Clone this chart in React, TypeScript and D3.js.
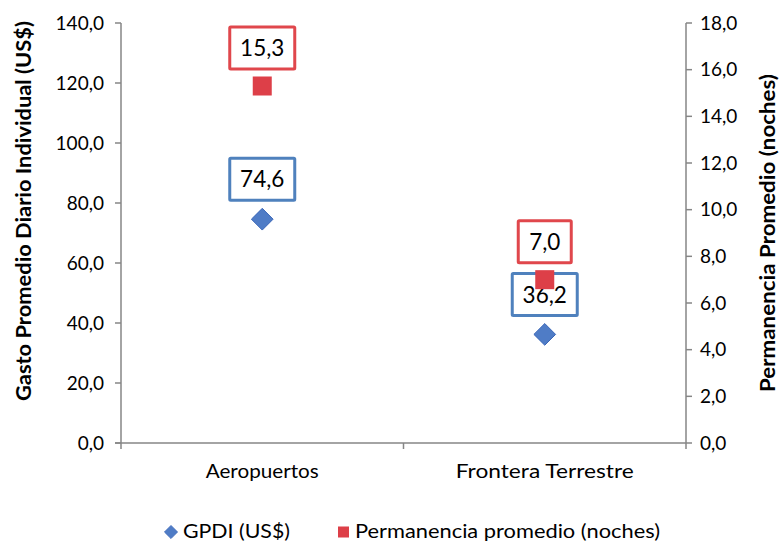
import React from "react";
import * as d3 from "d3";

const categories = ["Aeropuertos", "Frontera Terrestre"];
const gpdi = [74.6, 36.2];
const permanencia = [15.3, 7.0];
const leftTicks = [0, 20, 40, 60, 80, 100, 120, 140];
const rightTicks = [0, 2, 4, 6, 8, 10, 12, 14, 16, 18];
const seriesNames = ["GPDI (US$)", "Permanencia promedio (noches)"];
const leftTitle = "Gasto Promedio Diario Individual (US$)";
const rightTitle = "Permanencia Promedio (noches)";

const W = 779;
const H = 545;
const FONT = "Lato, 'Open Sans', sans-serif";
const AXIS = "#868686";
const RED = "#E0474C";
const RED_FILL = "#DD3F48";
const BLUE = "#4F81BD";
const BLUE_FILL = "#4F7CC6";
const BLUE_STROKE = "#3A66B8";

const fmt = (v: number) => d3.format(".1f")(v).replace(".", ",");

export default function App() {
  const left = 121, right = 686, top = 23, bottom = 443;
  const x = d3.scaleBand<string>().domain(categories).range([left, right]).padding(0);
  const yL = d3.scaleLinear().domain([0, 140]).range([bottom, top]);
  const yR = d3.scaleLinear().domain([0, 18]).range([bottom, top]);
  const cx = (c: string) => (x(c) ?? 0) + x.bandwidth() / 2;
  const diamond = d3.symbol().type(d3.symbolDiamond2).size(300)();
  const boxW = (s: string) => s.length * 12 + 17;
  const boxH = 42;
  const catLen = [113, 178];
  const legY = 532;

  const catBounds = [left, ...categories.map((c) => (x(c) ?? 0) + x.bandwidth())];

  return (
    <svg width={W} height={H} style={{ position: "absolute", left: 0, top: 0, fontFamily: FONT }}>
      <rect width={W} height={H} fill="#fff" />
      {/* left axis */}
      <line x1={left} x2={left} y1={top} y2={bottom} stroke={AXIS} strokeWidth={1.5} />
      {leftTicks.map((t) => (
        <g key={"l" + t}>
          <line x1={left - 6} x2={left} y1={yL(t)} y2={yL(t)} stroke={AXIS} strokeWidth={1.5} />
          <text x={104} y={yL(t)} dy="0.35em" textAnchor="end" fontSize={19} fill="#000">
            {fmt(t)}
          </text>
        </g>
      ))}
      {/* right axis */}
      <line x1={right} x2={right} y1={top} y2={bottom} stroke={AXIS} strokeWidth={1.5} />
      {rightTicks.map((t) => (
        <g key={"r" + t}>
          <line x1={right} x2={right + 6} y1={yR(t)} y2={yR(t)} stroke={AXIS} strokeWidth={1.5} />
          <text x={700} y={yR(t)} dy="0.35em" textAnchor="start" fontSize={19} fill="#000">
            {fmt(t)}
          </text>
        </g>
      ))}
      {/* x axis */}
      <line x1={left - 6} x2={right} y1={bottom} y2={bottom} stroke={AXIS} strokeWidth={1.5} />
      {catBounds.map((b, i) => (
        <line key={"xb" + i} x1={b} x2={b} y1={bottom} y2={bottom + 6} stroke={AXIS} strokeWidth={1.5} />
      ))}
      {categories.map((c, i) => (
        <text key={c} x={cx(c)} y={478} textAnchor="middle" fontSize={19.5} fill="#000"
          textLength={catLen[i]} lengthAdjust="spacingAndGlyphs">
          {c}
        </text>
      ))}
      {/* axis titles */}
      <text
        transform={`translate(31,211) rotate(-90)`}
        textAnchor="middle"
        fontSize={20}
        fontWeight="bold"
        fill="#000"
        textLength={380}
        lengthAdjust="spacingAndGlyphs"
      >
        {leftTitle}
      </text>
      <text
        transform={`translate(775,233) rotate(-90)`}
        textAnchor="middle"
        fontSize={20}
        fontWeight="bold"
        fill="#000"
        textLength={318}
        lengthAdjust="spacingAndGlyphs"
      >
        {rightTitle}
      </text>
      {/* GPDI series */}
      {categories.map((c, i) => {
        const px = cx(c), py = yL(gpdi[i]);
        const label = fmt(gpdi[i]);
        const w = boxW(label);
        const by = py - 40;
        return (
          <g key={"g" + c}>
            <path d={diamond} transform={`translate(${px},${py})`} fill={BLUE_FILL} stroke={BLUE_STROKE} strokeWidth={1} />
            <rect x={px - w / 2} y={by - boxH / 2} width={w} height={boxH} fill="#fff" stroke={BLUE} strokeWidth={3} rx={1} />
            <text x={px} y={by} dy="0.36em" textAnchor="middle" fontSize={22.5} fill="#000">
              {label}
            </text>
          </g>
        );
      })}
      {/* Permanencia series */}
      {categories.map((c, i) => {
        const px = cx(c), py = yR(permanencia[i]);
        const label = fmt(permanencia[i]);
        const w = boxW(label);
        const by = py - 38;
        return (
          <g key={"p" + c}>
            <rect x={px - w / 2} y={by - boxH / 2} width={w} height={boxH} fill="#fff" stroke={RED} strokeWidth={3} rx={1} />
            <text x={px} y={by} dy="0.36em" textAnchor="middle" fontSize={22.5} fill="#000">
              {label}
            </text>
            <rect x={px - 9.5} y={py - 9.5} width={19} height={19} fill={RED_FILL} />
          </g>
        );
      })}
      {/* legend */}
      <path d={d3.symbol().type(d3.symbolDiamond2).size(110)()} transform={`translate(171,${legY})`} fill={BLUE_FILL} stroke={BLUE_STROKE} strokeWidth={0.8} />
      <text x={183} y={legY} dy="0.35em" fontSize={18.5} fill="#000" textLength={107} lengthAdjust="spacingAndGlyphs">
        {seriesNames[0]}
      </text>
      <rect x={338} y={legY - 5.5} width={11} height={11} fill={RED_FILL} />
      <text x={355} y={legY} dy="0.35em" fontSize={18.5} fill="#000" textLength={305} lengthAdjust="spacingAndGlyphs">
        {seriesNames[1]}
      </text>
    </svg>
  );
}
